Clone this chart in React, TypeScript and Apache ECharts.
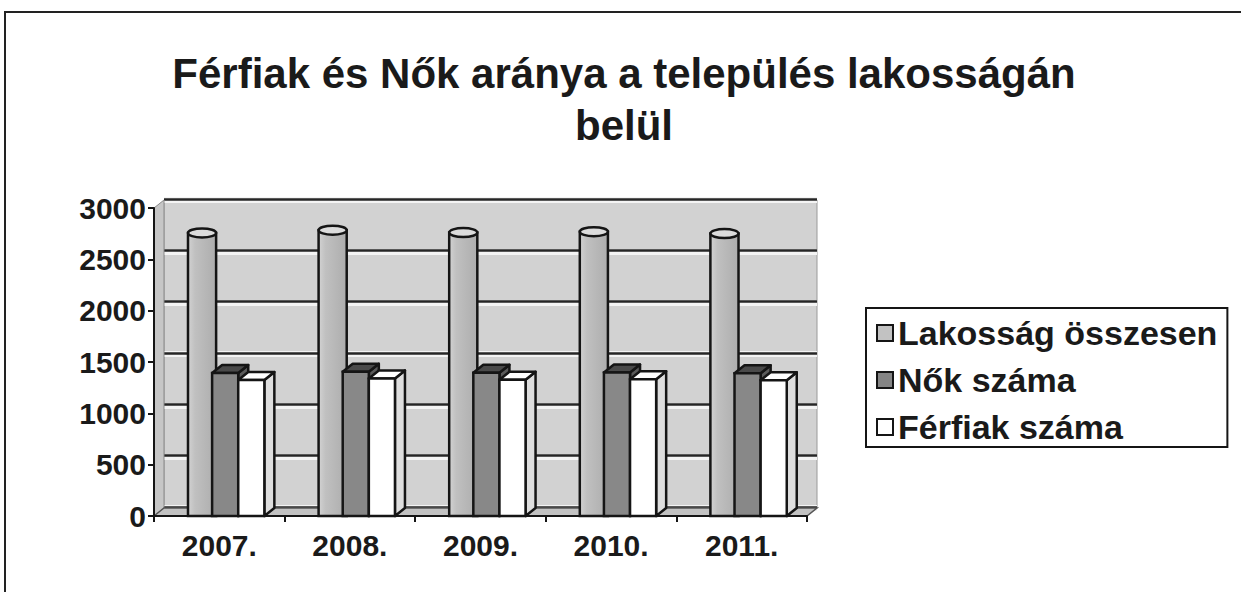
import React, { useEffect, useRef } from "react";
import * as echarts from "echarts";

const years = ["2007.", "2008.", "2009.", "2010.", "2011."];
const lakossag = [2718, 2745, 2722, 2730, 2712];
const nok = [1393, 1405, 1395, 1398, 1390];
const ferfiak = [1325, 1340, 1327, 1332, 1322];
const seriesNames = ["Lakosság összesen", "Nők száma", "Férfiak száma"];
const titleLines = ["Férfiak és Nők aránya a település lakosságán", "belül"];

const FONT = '"Liberation Sans", Arial, Helvetica, sans-serif';
const FRONT = { left: 154, top: 208, width: 653, height: 308 };
const DX = 10;
const DY = -8;
const STROKE = "#151515";
const LW = 2.5;
const BAR_W = 0.2;

function boxRender(offset: number, front: string, top: string, side: string) {
  return (params: any, api: any) => {
    const idx = api.value(0);
    const val = api.value(1);
    const p = api.coord([idx, val]);
    const b = api.coord([idx, 0]);
    const band = api.size([1, 0])[0];
    const w = band * BAR_W;
    const x0 = p[0] + offset * band;
    const x1 = x0 + w;
    const yT = p[1];
    const yB = b[1];
    return {
      type: "group",
      children: [
        {
          type: "polygon",
          shape: { points: [[x1, yT], [x1 + DX, yT + DY], [x1 + DX, yB + DY], [x1, yB]] },
          style: { fill: side, stroke: STROKE, lineWidth: LW, lineJoin: "round" },
        },
        {
          type: "polygon",
          shape: { points: [[x0, yT], [x0 + DX, yT + DY], [x1 + DX, yT + DY], [x1, yT]] },
          style: { fill: top, stroke: STROKE, lineWidth: LW, lineJoin: "round" },
        },
        {
          type: "rect",
          shape: { x: x0, y: yT, width: w, height: yB - yT },
          style: { fill: front, stroke: STROKE, lineWidth: LW },
        },
      ],
    };
  };
}

function cylRender(offset: number) {
  return (params: any, api: any) => {
    const idx = api.value(0);
    const val = api.value(1);
    const p = api.coord([idx, val]);
    const b = api.coord([idx, 0]);
    const band = api.size([1, 0])[0];
    const w = band * BAR_W;
    const x0 = p[0] + offset * band;
    const rx = w / 2 + 1;
    const cx = x0 + w / 2 + DX * 0.3;
    const cy = p[1] + DY / 2;
    const yB = b[1];
    return {
      type: "group",
      children: [
        {
          type: "rect",
          shape: { x: cx - rx, y: cy, width: rx * 2, height: yB - cy },
          style: {
            fill: new echarts.graphic.LinearGradient(0, 0, 1, 0, [
              { offset: 0, color: "#d2d2d2" },
              { offset: 0.25, color: "#c0c0c0" },
              { offset: 1, color: "#adadad" },
            ]),
            stroke: STROKE,
            lineWidth: LW,
          },
        },
        {
          type: "ellipse",
          shape: { cx, cy, rx, ry: 4.5 },
          style: { fill: "#dcdcdc", stroke: STROKE, lineWidth: LW },
        },
      ],
    };
  };
}

const wallGrid = { left: FRONT.left + DX, top: FRONT.top + DY, width: FRONT.width, height: FRONT.height };

export default function App() {
  const ref = useRef<HTMLDivElement>(null);
  useEffect(() => {
    document.body.style.margin = "0";
    if (!ref.current) return;
    const chart = echarts.init(ref.current, undefined, { renderer: "svg" });
    const toPairs = (arr: number[]) => arr.map((v, i) => [i, v]);
    const fl = FRONT.left, ft = FRONT.top, fr = FRONT.left + FRONT.width, fb = FRONT.top + FRONT.height;
    chart.setOption({
      animation: false,
      backgroundColor: "#ffffff",
      textStyle: { fontFamily: FONT },
      title: {
        text: titleLines.join("\n"),
        left: 624,
        top: 47,
        padding: 0,
        textAlign: "center",
        textStyle: { fontFamily: FONT, fontSize: 42, fontWeight: "bold", color: "#1a1a1a", lineHeight: 52 },
      },
      legend: {
        orient: "vertical",
        left: 866,
        top: 308,
        padding: [5, 10, 0, 10],
        itemGap: 7,
        itemWidth: 16,
        itemHeight: 16,
        icon: "rect",
        borderColor: "#151515",
        borderWidth: 2,
        borderRadius: 0,
        itemStyle: { borderColor: "#151515", borderWidth: 2 },
        textStyle: { fontFamily: FONT, fontSize: 34, fontWeight: "bold", color: "#1a1a1a", lineHeight: 40 },
        data: seriesNames,
      },
      grid: [
        { ...wallGrid, show: true, backgroundColor: "#d2d2d2", borderColor: "#9a9a9a", borderWidth: 1 },
        { ...wallGrid, top: wallGrid.top - 1 },
        { ...FRONT },
      ],
      xAxis: [
        { type: "category", gridIndex: 0, data: years, show: false },
        { type: "category", gridIndex: 1, data: years, show: false },
        {
          type: "category",
          gridIndex: 2,
          data: years,
          z: 4,
          axisLine: { show: true, lineStyle: { color: "#151515", width: 2 } },
          axisTick: { show: true, length: 6, lineStyle: { color: "#151515", width: 2 } },
          axisLabel: { fontFamily: FONT, fontSize: 30, fontWeight: "bold", color: "#1a1a1a", margin: 14 },
        },
      ],
      yAxis: [
        {
          type: "value", gridIndex: 0, min: 0, max: 3000, interval: 500, z: 0,
          axisLine: { show: false }, axisTick: { show: false }, axisLabel: { show: false },
          splitLine: { show: true, lineStyle: { color: "#f4f4f4", width: 6 } },
        },
        {
          type: "value", gridIndex: 1, min: 0, max: 3000, interval: 500, z: 1,
          axisLine: { show: false }, axisTick: { show: false }, axisLabel: { show: false },
          splitLine: { show: true, lineStyle: { color: "#262626", width: 2.5 } },
        },
        {
          type: "value", gridIndex: 2, min: 0, max: 3000, interval: 500, z: 4,
          axisLine: { show: true, lineStyle: { color: "#151515", width: 2 } },
          axisTick: { show: true, length: 6, lineStyle: { color: "#151515", width: 2 } },
          axisLabel: {
            fontFamily: FONT, fontSize: 30, fontWeight: "bold", color: "#1a1a1a", margin: 8,
            formatter: (v: number) => String(v),
          },
          splitLine: { show: false },
        },
      ],
      graphic: {
        elements: [
          {
            type: "polyline",
            z: 2,
            shape: { points: [[5, 592], [5, 12], [1241, 12]] },
            style: { stroke: "#222222", lineWidth: 2, fill: null },
          },
          {
            type: "polygon",
            z: 2,
            shape: { points: [[fl, fb], [fl, ft], [fl + DX, ft + DY], [fl + DX, fb + DY]] },
            style: { fill: "#c6c6c6", stroke: "#8a8a8a", lineWidth: 1 },
          },
          {
            type: "polygon",
            z: 2,
            shape: { points: [[fl, fb], [fl + DX, fb + DY], [fr + DX, fb + DY], [fr, fb]] },
            style: { fill: "#c2c2c2", stroke: "#555555", lineWidth: 1.5 },
          },
        ],
      },
      series: [
        {
          name: seriesNames[0],
          type: "custom",
          xAxisIndex: 2,
          yAxisIndex: 2,
          z: 3,
          itemStyle: { color: "#c2c2c2" },
          encode: { x: 0, y: 1 },
          data: toPairs(lakossag),
          renderItem: cylRender(-0.255),
        },
        {
          name: seriesNames[1],
          type: "custom",
          xAxisIndex: 2,
          yAxisIndex: 2,
          z: 3,
          itemStyle: { color: "#858585" },
          encode: { x: 0, y: 1 },
          data: toPairs(nok),
          renderItem: boxRender(-0.055, "#888888", "#4a4a4a", "#5a5a5a"),
        },
        {
          name: seriesNames[2],
          type: "custom",
          xAxisIndex: 2,
          yAxisIndex: 2,
          z: 3,
          itemStyle: { color: "#ffffff" },
          encode: { x: 0, y: 1 },
          data: toPairs(ferfiak),
          renderItem: boxRender(0.145, "#ffffff", "#ffffff", "#dedede"),
        },
      ],
    });
    return () => chart.dispose();
  }, []);
  return <div ref={ref} style={{ width: 1241, height: 592 }} />;
}
